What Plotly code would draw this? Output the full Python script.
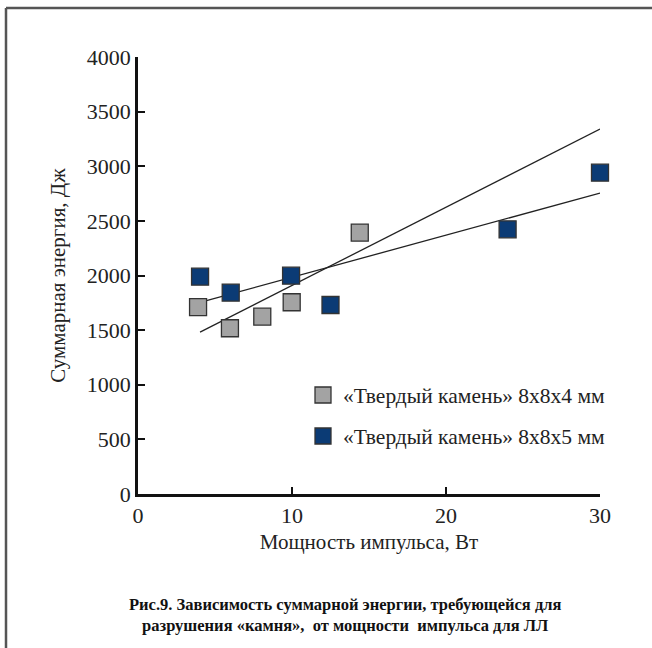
import numpy as np
import plotly.graph_objects as go

# Data
gray_x = [3.9, 5.97, 8.07, 9.98, 14.4]
gray_y = [1710, 1517, 1623, 1755, 2392]
blue_x = [4.03, 6.02, 9.94, 12.5, 24.0, 30.0]
blue_y = [1989, 1843, 1998, 1730, 2423, 2941]

gray_name = "«Твердый камень» 8x8x4 мм"
blue_name = "«Твердый камень» 8x8x5 мм"
x_title = "Мощность импульса, Вт"
y_title = "Суммарная энергия, Дж"
caption = ("<b>Рис.9. Зависимость суммарной энергии, требующейся для<br>"
           "разрушения «камня»,  от мощности  импульса для ЛЛ</b>")
x_ticks = [0, 10, 20, 30]
y_ticks = [0, 500, 1000, 1500, 2000, 2500, 3000, 3500, 4000]

GRAY = "#a3a3a3"
BLUE = "#0b3b75"
FONT = "Times New Roman, Liberation Serif, serif"

# Linear trend lines (least squares of each series)
line_x = np.array([min(blue_x), 30.0])
ga, gb = np.polyfit(gray_x, gray_y, 1)
ba, bb = np.polyfit(blue_x, blue_y, 1)

fig = go.Figure()
fig.add_trace(go.Scatter(x=line_x, y=ga * line_x + gb, mode="lines",
                         line=dict(color="#222222", width=1.3), showlegend=False,
                         hoverinfo="skip"))
fig.add_trace(go.Scatter(x=line_x, y=ba * line_x + bb, mode="lines",
                         line=dict(color="#222222", width=1.3), showlegend=False,
                         hoverinfo="skip"))
fig.add_trace(go.Scatter(x=gray_x, y=gray_y, mode="markers", name=gray_name,
                         marker=dict(symbol="square", size=17, color=GRAY,
                                     line=dict(color="#333333", width=1.3)),
                         cliponaxis=False, legend="legend"))
fig.add_trace(go.Scatter(x=blue_x, y=blue_y, mode="markers", name=blue_name,
                         marker=dict(symbol="square", size=17, color=BLUE,
                                     line=dict(color="#333333", width=1.3)),
                         cliponaxis=False, legend="legend2"))

L, R, T, B = 138, 52, 57, 154
W, H = 652, 648
pw, ph = W - L - R, H - T - B

def px(xp):
    return (xp - L) / pw

def py(yp):
    return (H - B - yp) / ph

axis_common = dict(showline=True, linecolor="#111111", linewidth=2.5,
                   ticks="inside", tickcolor="#111111", tickwidth=1.5,
                   showgrid=False, zeroline=False,
                   tickfont=dict(family=FONT, size=22, color="#222222"))

fig.update_layout(
    width=W, height=H,
    margin=dict(l=L, r=R, t=T, b=B),
    paper_bgcolor="white", plot_bgcolor="white",
    font=dict(family=FONT, color="#222222"),
    xaxis=dict(range=[0, 30], tickvals=x_ticks, ticklen=7,
               title=dict(text=x_title, font=dict(family=FONT, size=21), standoff=8),
               **axis_common),
    yaxis=dict(range=[0, 4000], tickvals=y_ticks, ticklen=7,
               title=dict(text=y_title, font=dict(family=FONT, size=21), standoff=16),
               **axis_common),
    legend=dict(x=px(303), y=py(395), xanchor="left", yanchor="middle",
                font=dict(family=FONT, size=21.5, color="#222222"),
                bgcolor="rgba(0,0,0,0)", itemsizing="trace"),
    legend2=dict(x=px(303), y=py(436), xanchor="left", yanchor="middle",
                 font=dict(family=FONT, size=21.5, color="#222222"),
                 bgcolor="rgba(0,0,0,0)", itemsizing="trace"),
    showlegend=True,
)

fig.add_annotation(text=caption, xref="paper", yref="paper",
                   x=px(345), y=py(615), xanchor="center", yanchor="middle",
                   showarrow=False, align="center",
                   font=dict(family=FONT, size=16.5, color="#111111"))

# Outer frame (left and top edges visible in the picture)
fig.add_shape(type="line", xref="paper", yref="paper",
              x0=px(6), y0=py(8), x1=px(700), y1=py(8),
              line=dict(color="#555555", width=2.5))
fig.add_shape(type="line", xref="paper", yref="paper",
              x0=px(6), y0=py(8), x1=px(6), y1=py(700),
              line=dict(color="#555555", width=2.5))

fig.write_html("out.html")
